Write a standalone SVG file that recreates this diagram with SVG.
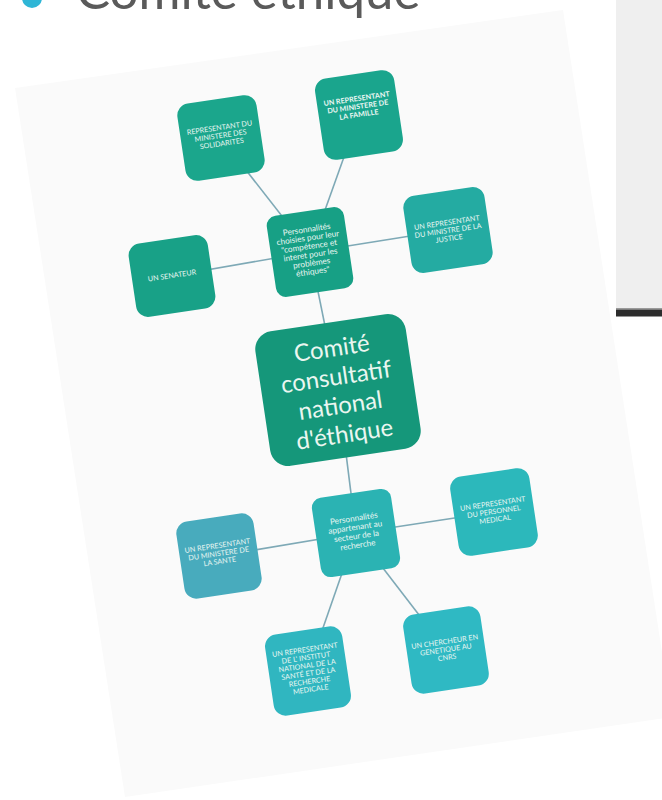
<svg xmlns="http://www.w3.org/2000/svg" width="662" height="800" viewBox="0 0 662 800">
<style>
.box{stroke:none}
.t{font-family:Lato,"Open Sans","DejaVu Sans",sans-serif;fill:#e9f6f2;text-anchor:middle}
.s{font-size:7.2px}
.b{font-weight:bold}
.h{font-size:8.2px}
.c{font-size:24px;fill:#eaf6f0}
.ln{stroke:#7ea9b6;stroke-width:1.6;fill:none}
</style>
<rect width="662" height="800" fill="#ffffff"/>
<polygon points="15,88 563,10 672,717 125,797" fill="#fafafa"/>
<rect x="616" y="0" width="46" height="309" fill="#efefef"/>
<rect x="616" y="308" width="46" height="1.5" fill="#9a9a9a"/>
<rect x="616" y="309.5" width="46" height="7" fill="#2d2d2d"/>
<g id="title">
<circle cx="32" cy="-2" r="10" fill="#2fb6d6"/>
<text x="76" y="9" font-family="Lato,'Open Sans',sans-serif" font-weight="400" font-size="51" fill="#5a5a5a">Comité éthique</text>
</g>
<g id="connectors">
<line class="ln" x1="221" y1="138" x2="310" y2="252"/>
<line class="ln" x1="359" y1="115" x2="310" y2="252"/>
<line class="ln" x1="448" y1="230" x2="310" y2="252"/>
<line class="ln" x1="172" y1="276" x2="310" y2="252"/>
<line class="ln" x1="310" y1="252" x2="338" y2="390"/>
<line class="ln" x1="338" y1="390" x2="356" y2="533"/>
<line class="ln" x1="219" y1="556" x2="356" y2="533"/>
<line class="ln" x1="494" y1="512" x2="356" y2="533"/>
<line class="ln" x1="308" y1="671" x2="356" y2="533"/>
<line class="ln" x1="446" y1="650" x2="356" y2="533"/>
</g>
<g id="solidarites" transform="translate(221,138) rotate(-8.5)">
<rect class="box" x="-40" y="-39" width="80" height="78" rx="12" fill="#1ba68c"/>
<text class="t s" y="-8">REPRESENTANT DU</text>
<text class="t s" y="0">MINISTERE DES</text>
<text class="t s" y="8">SOLIDARITES</text>
</g>
<g id="famille" transform="translate(359,115) rotate(-8.5)">
<rect class="box" x="-40" y="-41" width="80" height="82" rx="12" fill="#1aa58d"/>
<text class="t s b" y="-14">UN REPRESENTANT</text>
<text class="t s b" y="-6">DU MINISTERE DE</text>
<text class="t s b" y="2">LA FAMILLE</text>
</g>
<g id="justice" transform="translate(448,230) rotate(-8.5)">
<rect class="box" x="-41" y="-39" width="82" height="78" rx="12" fill="#24aba2"/>
<text class="t s" y="-5">UN REPRESENTANT</text>
<text class="t s" y="3">DU MINISTRE DE LA</text>
<text class="t s" y="11">JUSTICE</text>
</g>
<g id="senateur" transform="translate(172,276) rotate(-8.5)">
<rect class="box" x="-40" y="-37" width="80" height="74" rx="12" fill="#18a187"/>
<text class="t s" y="2">UN SENATEUR</text>
</g>
<g id="hub-choisies" transform="translate(310,252) rotate(-8.5)">
<rect class="box" x="-39" y="-41" width="78" height="82" rx="10" fill="#17a085"/>
<text class="t h" y="-20">Personnalités</text>
<text class="t h" y="-11.5">choisies pour leur</text>
<text class="t h" y="-3">"compétence et</text>
<text class="t h" y="5.5">interet pour les</text>
<text class="t h" y="14">problèmes</text>
<text class="t h" y="22.5">éthiques"</text>
</g>
<g id="comite" transform="translate(338,390) rotate(-8.5)">
<rect class="box" x="-76" y="-68" width="152" height="136" rx="18" fill="#15977a"/>
<text class="t c" y="-34">Comité</text>
<text class="t c" y="-5">consultatif</text>
<text class="t c" y="24">national</text>
<text class="t c" y="53">d'éthique</text>
</g>
<g id="hub-recherche" transform="translate(356,533) rotate(-8.5)">
<rect class="box" x="-40" y="-40" width="80" height="80" rx="10" fill="#2bb3b3"/>
<text class="t h" y="-12">Personnalités</text>
<text class="t h" y="-3">appartenant au</text>
<text class="t h" y="6">secteur de la</text>
<text class="t h" y="15">recherche</text>
</g>
<g id="sante" transform="translate(219,556) rotate(-8.5)">
<rect class="box" x="-39" y="-39" width="78" height="78" rx="12" fill="#48abbd"/>
<text class="t s" y="-8">UN REPRESENTANT</text>
<text class="t s" y="0">DU MINISTERE DE</text>
<text class="t s" y="8">LA SANTE</text>
</g>
<g id="medical" transform="translate(494,512) rotate(-8.5)">
<rect class="box" x="-40" y="-40" width="80" height="80" rx="12" fill="#2cb8bb"/>
<text class="t s" y="-6">UN REPRESENTANT</text>
<text class="t s" y="2">DU PERSONNEL</text>
<text class="t s" y="10">MEDICAL</text>
</g>
<g id="inserm" transform="translate(308,671) rotate(-8.5)">
<rect class="box" x="-39" y="-41" width="78" height="82" rx="12" fill="#30b6c0"/>
<text class="t s" y="-19">UN REPRESENTANT</text>
<text class="t s" y="-11">DE L' INSTITUT</text>
<text class="t s" y="-3">NATIONAL DE LA</text>
<text class="t s" y="5">SANTÉ ET DE LA</text>
<text class="t s" y="13">RECHERCHE</text>
<text class="t s" y="21">MEDICALE</text>
</g>
<g id="cnrs" transform="translate(446,650) rotate(-8.5)">
<rect class="box" x="-39" y="-40" width="78" height="80" rx="12" fill="#2fb9c3"/>
<text class="t s" y="-6">UN CHERCHEUR EN</text>
<text class="t s" y="2">GENETIQUE AU</text>
<text class="t s" y="10">CNRS</text>
</g>
</svg>
